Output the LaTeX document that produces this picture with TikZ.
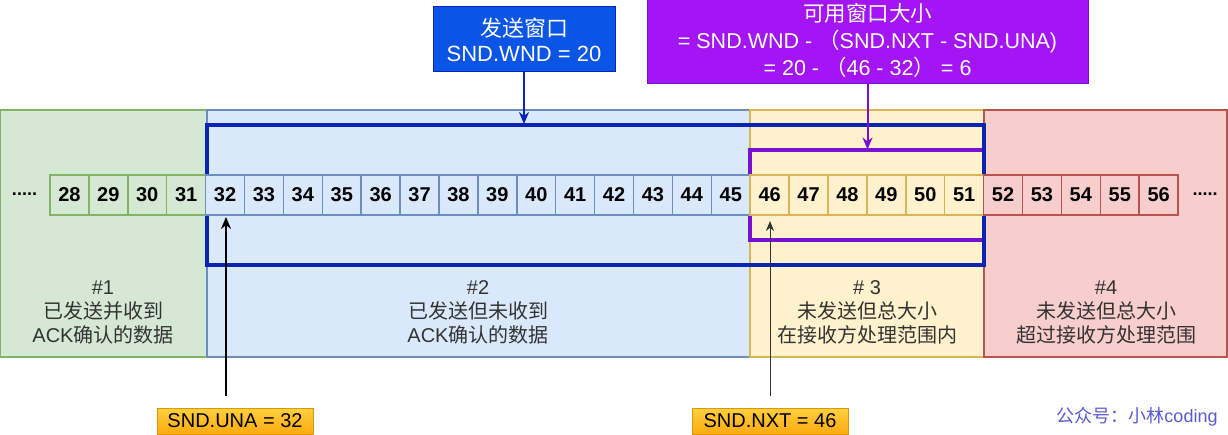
\documentclass[tikz,border=0pt]{standalone}
\usepackage{fontspec}
\setmainfont{Liberation Sans}
\newfontfamily\cjk{Noto Sans CJK SC}
\usetikzlibrary{arrows.meta,calc}
\definecolor{gF}{HTML}{D5E8D4}\definecolor{gD}{HTML}{82B366}
\definecolor{bF}{HTML}{DAE8FC}\definecolor{bD}{HTML}{6C8EBF}
\definecolor{yF}{HTML}{FFF2CC}\definecolor{yD}{HTML}{D6B656}
\definecolor{rF}{HTML}{F8CECC}\definecolor{rD}{HTML}{B85450}
\definecolor{winBlue}{HTML}{0A24B4}
\definecolor{winPurple}{HTML}{7A10D0}
\definecolor{sendFill}{HTML}{0A55E6}
\definecolor{availFill}{HTML}{A315F5}
\definecolor{orTop}{HTML}{FFD040}
\definecolor{orBot}{HTML}{FFA90F}
\definecolor{orLine}{HTML}{D79B00}
\definecolor{wmc}{HTML}{5A5AD0}
\definecolor{txt}{HTML}{333333}
\begin{document}
\begin{tikzpicture}[x=1pt,y=-1pt,
  region/.style={anchor=north west, line width=1.5pt, inner sep=0pt, outer sep=0pt, minimum height=247pt},
  regtext/.style={align=center, text=txt, font=\fontsize{20}{24}\selectfont, inner sep=0pt},
  cell/.style={minimum width=38.9pt, minimum height=40pt, inner sep=0pt, outer sep=0pt, line width=1.5pt,
    font=\fontsize{20}{20}\selectfont\bfseries},
  winbox/.style={line width=4pt, anchor=north west, inner sep=0pt, outer sep=0pt},
  topbox/.style={align=center, text=white, inner sep=0pt, outer sep=0pt, line width=1pt,
    font=\fontsize{22}{25}\selectfont},
  lbl/.style={draw=orLine, top color=orTop, bottom color=orBot, minimum width=156pt,
    minimum height=26pt, inner sep=0pt, line width=0.8pt, font=\fontsize{20}{20}\selectfont},
  dots/.style={anchor=base, font=\fontsize{18}{18}\selectfont\bfseries},
  tip/.style={-{Stealth[length=12pt,width=10pt]}}
]
\useasboundingbox (0,0) rectangle (1228,435);
% regions
\node[region, fill=gF, draw=gD, minimum width=207pt] (r1) at (0,110) {};
\node[region, fill=bF, draw=bD, minimum width=543pt] (r2) at (207,110) {};
\node[region, fill=yF, draw=yD, minimum width=234pt] (r3) at (750,110) {};
\node[region, fill=rF, draw=rD, minimum width=243pt] (r4) at (984,110) {};
% region labels
\node[regtext] (t1) at (103,312) {\#1\\{\cjk 已发送并收到}\\ACK{\cjk 确认的数据}};
\node[regtext] (t2) at (478,312) {\#2\\{\cjk 已发送但未收到}\\ACK{\cjk 确认的数据}};
\node[regtext] (t3) at (867,312) {\# 3\\{\cjk 未发送但总大小}\\{\cjk 在接收方处理范围内}};
\node[regtext] (t4) at (1106,312) {\#4\\{\cjk 未发送但总大小}\\{\cjk 超过接收方处理范围}};
% windows
\node[winbox, draw=winPurple, minimum width=234pt, minimum height=90pt] (avail) at (750,150.5) {};
\node[winbox, draw=winBlue, minimum width=777.5pt, minimum height=140.5pt] (win) at (206.5,125) {};
% cells
\foreach \n in {28,...,31} \node[cell, fill=gF, draw=gD] (c\n) at ({50+(\n-28)*38.9+19.45},195) {\n};
\foreach \n in {32,...,45} \node[cell, fill=bF, draw=bD] (c\n) at ({50+(\n-28)*38.9+19.45},195) {\n};
\foreach \n in {46,...,51} \node[cell, fill=yF, draw=yD] (c\n) at ({50+(\n-28)*38.9+19.45},195) {\n};
\foreach \n in {52,...,56} \node[cell, fill=rF, draw=rD] (c\n) at ({50+(\n-28)*38.9+19.45},195) {\n};
\node[dots] (dl) at (24.5,196) {.....};
\node[dots] (dr) at (1205,196) {.....};
% top boxes
\node[topbox, fill=sendFill, draw=winBlue, minimum width=182pt, minimum height=65pt] (send) at (524,39.5)
  {{\cjk 发送窗口}\\SND.WND = 20};
\node[topbox, fill=availFill, draw=winPurple, minimum width=441pt, minimum height=88pt, font=\fontsize{21.5}{27}\selectfont] (av) at (867.5,40)
  {{\cjk 可用窗口大小}\\= SND.WND - {\cjk （}SND.NXT - SND.UNA)\\= 20 - {\cjk （}46 - 32{\cjk ）} = 6};
\draw[winBlue, line width=2pt, tip, shorten >=1pt] (send.south) -- (send.south |- win.north);
\draw[winPurple, line width=2pt, tip, shorten >=1pt] (av.south) -- (av.south |- avail.north);
% bottom labels
\node[lbl] (una) at (235,421) {SND.UNA = 32};
\node[lbl] (nxt) at (770,421) {SND.NXT = 46};
\coordinate (unaT) at (226,396);
\coordinate (nxtT) at (770,396);
\draw[black, line width=2pt, -{Stealth[length=12pt,width=10pt]}] (unaT) -- ($(unaT |- c32.south)+(0,2)$);
\draw[black!80, line width=1pt, -{Stealth[length=10pt,width=8pt]}] (nxtT) -- ($(nxtT |- c46.south)+(0,6)$);
% watermark
\node[text=wmc, font=\fontsize{18}{18}\selectfont, inner sep=0pt] (wm) at (1137,417) {{\cjk 公众号：小林}coding};
\end{tikzpicture}
\end{document}
